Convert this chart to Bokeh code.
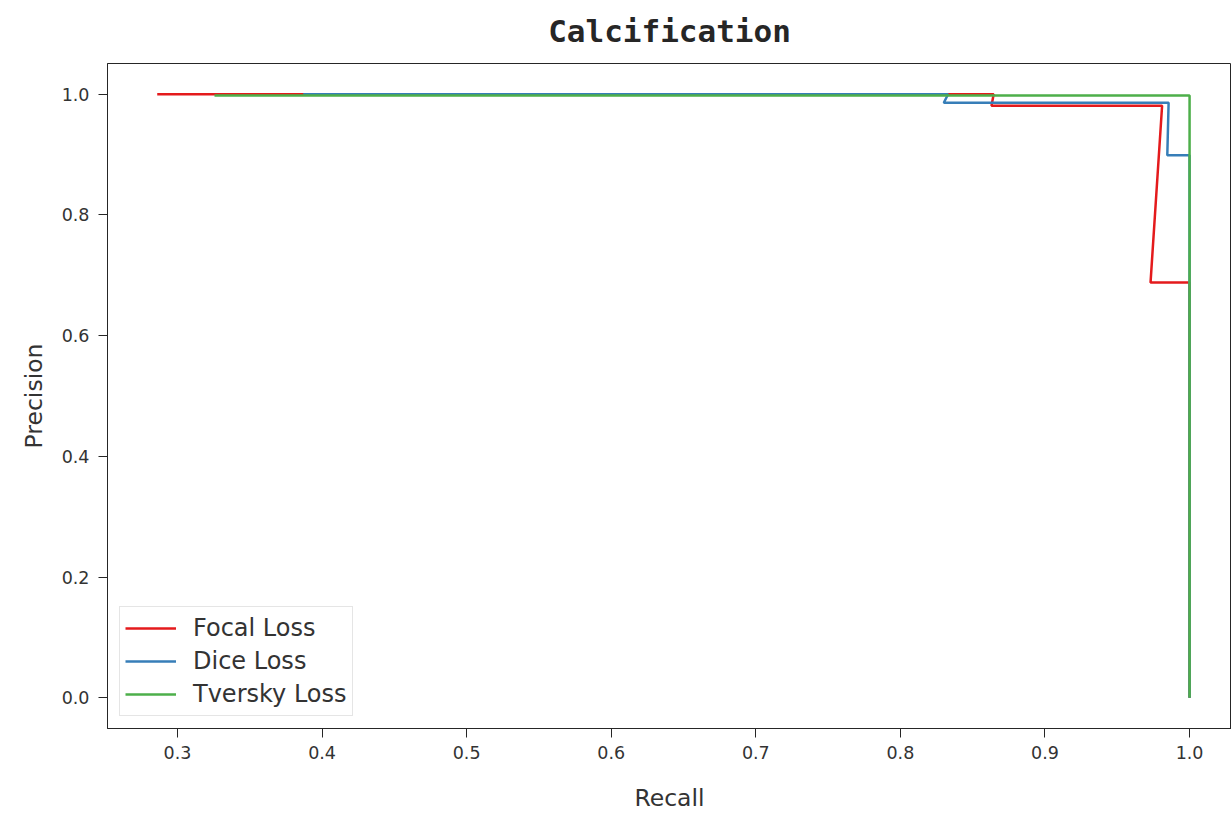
from bokeh.plotting import figure
from bokeh.models import Legend, LegendItem, Range1d, FixedTicker, NumeralTickFormatter
from bokeh.embed import file_html
from bokeh.resources import INLINE

# Data
focal_recall = [0.286, 0.8645, 0.863, 0.981, 0.973, 1.0, 1.0]
focal_precision = [1.0, 1.0, 0.981, 0.981, 0.688, 0.688, 0.0]

dice_recall = [0.387, 0.833, 0.830, 0.9855, 0.9846, 1.0, 1.0]
dice_precision = [1.0, 1.0, 0.986, 0.986, 0.899, 0.899, 0.0]

tversky_recall = [0.3256, 1.0, 1.0]
tversky_precision = [0.998, 0.998, 0.0]

x_ticks = [0.3, 0.4, 0.5, 0.6, 0.7, 0.8, 0.9, 1.0]
y_ticks = [0.0, 0.2, 0.4, 0.6, 0.8, 1.0]

p = figure(width=1231, height=814, output_backend="svg", toolbar_location=None,
           x_range=Range1d(0.2516, 1.029), y_range=Range1d(-0.051, 1.051),
           min_border_left=107, min_border_right=0, min_border_top=63, min_border_bottom=78)

p.title.text = "Calcification"
p.title.align = "center"
p.title.text_font = "DejaVu Sans Mono"
p.title.text_font_style = "bold"
p.title.text_font_size = "31px"
p.title.text_color = "#262626"
p.title.vertical_align = "top"
p.title.standoff = 25

p.grid.visible = False
p.outline_line_color = "#262626"
p.outline_line_width = 1
p.background_fill_color = "white"
p.border_fill_color = "white"

for ax in (p.xaxis[0], p.yaxis[0]):
    ax.axis_line_color = "#262626"
    ax.major_tick_line_color = "#262626"
    ax.major_tick_out = 9
    ax.major_tick_in = 0
    ax.minor_tick_line_color = None
    ax.major_label_text_font = "DejaVu Sans"
    ax.major_label_text_font_size = "17.5px"
    ax.major_label_text_color = "#333333"
    ax.axis_label_text_font = "DejaVu Sans"
    ax.axis_label_text_font_size = "23.5px"
    ax.axis_label_text_font_style = "normal"
    ax.axis_label_text_color = "#333333"

p.xaxis.ticker = FixedTicker(ticks=x_ticks)
p.yaxis.ticker = FixedTicker(ticks=y_ticks)
p.xaxis.formatter = NumeralTickFormatter(format="0.0")
p.yaxis.formatter = NumeralTickFormatter(format="0.0")
p.xaxis.axis_label = "Recall"
p.yaxis.axis_label = "Precision"
p.xaxis.major_label_standoff = 8
p.yaxis.major_label_standoff = 9
p.xaxis.axis_label_standoff = 22
p.yaxis.axis_label_standoff = 11

r1 = p.line(focal_recall, focal_precision, line_color="#e41a1c", line_width=2.5)
r2 = p.line(dice_recall, dice_precision, line_color="#377eb8", line_width=2.5)
r3 = p.line(tversky_recall, tversky_precision, line_color="#4daf4a", line_width=2.5)

legend = Legend(items=[LegendItem(label="Focal Loss", renderers=[r1]),
                       LegendItem(label="Dice Loss", renderers=[r2]),
                       LegendItem(label="Tversky Loss", renderers=[r3])],
                location="bottom_left")
legend.margin = 12
legend.padding = 5
legend.spacing = 1
legend.glyph_width = 51
legend.glyph_height = 32
legend.label_height = 32
legend.label_standoff = 17
legend.label_text_font = "DejaVu Sans"
legend.label_text_font_size = "24px"
legend.label_text_color = "#333333"
legend.border_line_color = "#cccccc"
legend.border_line_width = 1
legend.background_fill_alpha = 0.8
p.add_layout(legend)

open("out.html", "w").write(file_html(p, INLINE))
